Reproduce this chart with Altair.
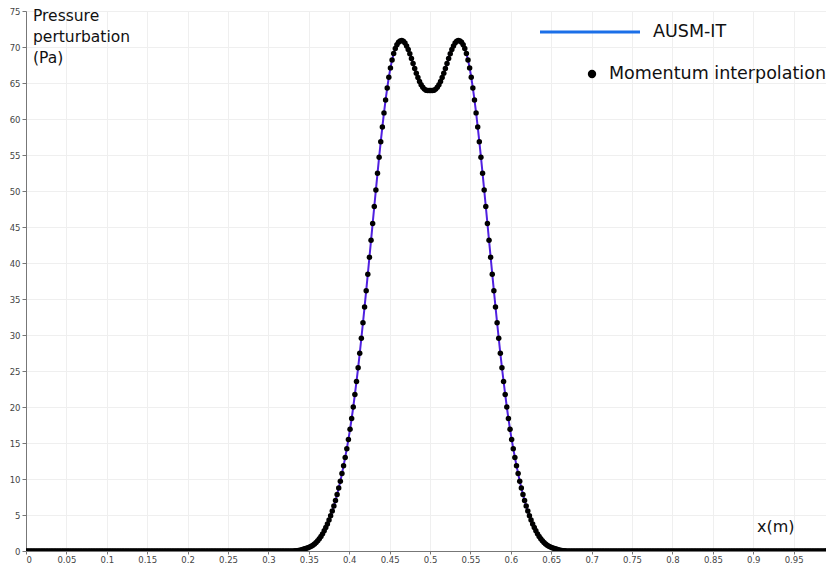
import altair as alt
import numpy as np
import pandas as pd

# cell centres of the 500-cell grid on [0, 1]
x_cells = np.round(0.001 + 0.002 * np.arange(500), 3)

zeros_left = [0.0] * 165  # x = 0.001 ... 0.329

rise = [  # x = 0.331 ... 0.499
    0.00, 0.02, 0.04, 0.07, 0.12, 0.17, 0.23, 0.30, 0.37, 0.45,
    0.55, 0.66, 0.80, 0.97, 1.18, 1.42, 1.70, 2.02, 2.38, 2.80,
    3.25, 3.75, 4.30, 4.90, 5.55, 6.25, 7.00, 7.85, 8.75, 9.70,
    10.75, 11.85, 13.00, 14.20, 15.50, 16.90, 18.40, 20.00, 21.75, 23.55,
    25.45, 27.45, 29.55, 31.70, 33.90, 36.15, 38.45, 40.80, 43.15, 45.50,
    47.85, 50.15, 52.45, 54.70, 56.85, 58.90, 60.85, 62.65, 64.30, 65.80,
    67.10, 68.20, 69.10, 69.80, 70.30, 70.65, 70.85, 70.90, 70.80, 70.55,
    70.15, 69.65, 69.05, 68.40, 67.70, 67.00, 66.35, 65.75, 65.20, 64.75,
    64.40, 64.15, 64.00, 63.95, 63.95,
]

fall = [  # x = 0.501 ... 0.669
    63.95, 63.95, 64.00, 64.15, 64.40,
    64.75, 65.20, 65.75, 66.35, 67.00, 67.70, 68.40, 69.05, 69.65, 70.15,
    70.55, 70.80, 70.90, 70.85, 70.65, 70.30, 69.80, 69.10, 68.20, 67.10,
    65.80, 64.30, 62.65, 60.85, 58.90, 56.85, 54.70, 52.45, 50.15, 47.85,
    45.50, 43.15, 40.80, 38.45, 36.15, 33.90, 31.70, 29.55, 27.45, 25.45,
    23.55, 21.75, 20.00, 18.40, 16.90, 15.50, 14.20, 13.00, 11.85, 10.75,
    9.70, 8.75, 7.85, 7.00, 6.25, 5.55, 4.90, 4.30, 3.75, 3.25,
    2.80, 2.38, 2.02, 1.70, 1.42, 1.18, 0.97, 0.80, 0.66, 0.55,
    0.45, 0.37, 0.30, 0.23, 0.17, 0.12, 0.07, 0.04, 0.02, 0.00,
]

zeros_right = [0.0] * 165  # x = 0.671 ... 0.999

pressure = zeros_left + rise + fall + zeros_right

x_ticks = [round(0.05 * i, 2) for i in range(20)]
y_ticks = list(range(0, 80, 5))

df = pd.DataFrame({"x": x_cells, "p": pressure})

FONT = "DejaVu Sans"
xs = alt.Scale(domain=[0, 0.99], nice=False, zero=False)
ys = alt.Scale(domain=[0, 75], nice=False)

x_axis = alt.Axis(values=x_ticks, format="~g", title=None, labelFontSize=8.5,
                  labelColor="#444", labelFont=FONT, tickColor="#777", tickSize=3,
                  domainColor="#777", gridColor="#efefef", labelPadding=1,
                  labelOverlap=False)
y_axis = alt.Axis(values=y_ticks, title=None, labelFontSize=8.5, labelColor="#444",
                  labelFont=FONT, tickColor="#777", tickSize=4, domainColor="#777",
                  gridColor="#efefef", labelPadding=2, labelOverlap=False)

base = alt.Chart(df)
line = base.mark_line(color="#5020e0", strokeWidth=2, clip=True).encode(
    x=alt.X("x:Q", scale=xs, axis=x_axis), y=alt.Y("p:Q", scale=ys, axis=y_axis))
pts = base.mark_circle(color="black", size=30, opacity=1, clip=True).encode(
    x=alt.X("x:Q", scale=xs, axis=x_axis), y=alt.Y("p:Q", scale=ys, axis=y_axis))

one = pd.DataFrame({"a": [0]})
leg_rule = alt.Chart(one).mark_rule(color="#1b6fe8", strokeWidth=3).encode(
    x=alt.value(514), x2=alt.value(614), y=alt.value(21))
leg_pt = alt.Chart(one).mark_circle(color="black", size=70, opacity=1).encode(
    x=alt.value(566), y=alt.value(63))

labels = pd.DataFrame({
    "t": ["AUSM-IT", "Momentum interpolation", "x(m)"],
    "px": [627, 583, 731],
    "py": [21, 63, 516],
    "fs": [17.5, 17.5, 16],
})
leg_text = alt.Chart(labels).mark_text(align="left", baseline="middle",
                                       font=FONT, color="#111").encode(
    x=alt.X("px:Q", scale=None), y=alt.Y("py:Q", scale=None), text="t:N",
    size=alt.Size("fs:Q", scale=None, legend=None))

ytitle = alt.Chart(pd.DataFrame({"t": ["Pressure\nperturbation\n(Pa)"]})).mark_text(
    align="left", baseline="top", fontSize=15.5, font=FONT, color="#111",
    lineBreak="\n", lineHeight=21).encode(x=alt.value(7), y=alt.value(-2), text="t:N")

chart = alt.layer(line, pts, leg_rule, leg_pt, leg_text, ytitle).properties(
    width=800, height=540,
    padding={"left": 18, "top": 3, "right": 0, "bottom": 13},
    autosize="none",
).configure_view(stroke=None)

chart.save("out.html", embed_options={"renderer": "svg", "actions": False})
